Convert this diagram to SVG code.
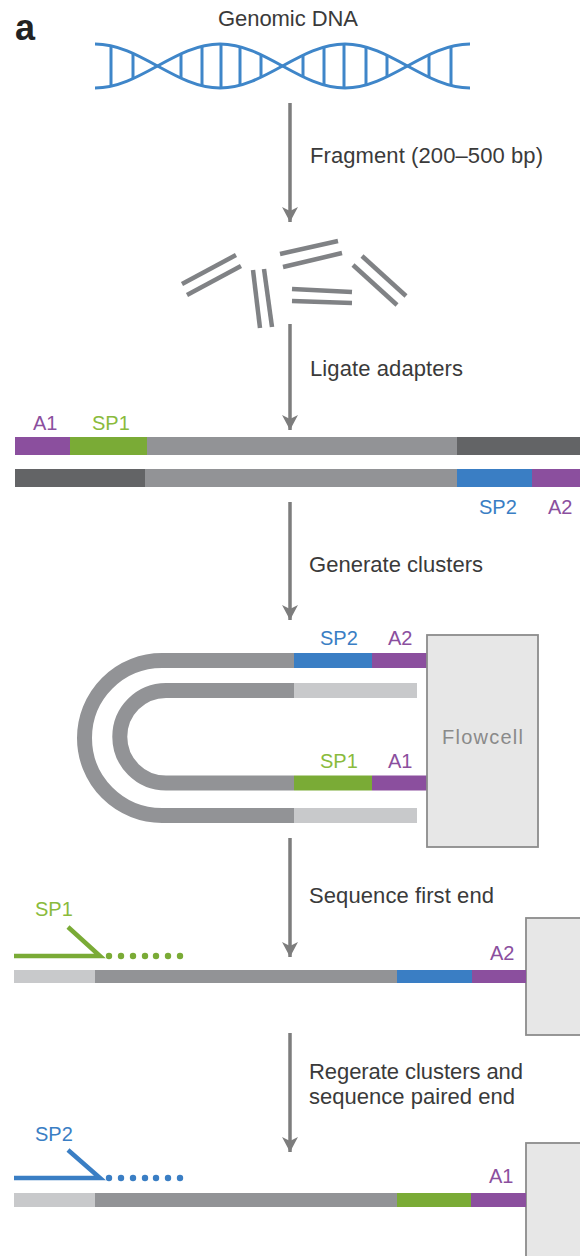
<svg xmlns="http://www.w3.org/2000/svg" width="580" height="1256" viewBox="0 0 580 1256">
  <style>
    .step { font-family: "Liberation Sans", Arial, sans-serif; font-size: 22px; fill: #3a3a3a; }
    .tag { font-family: "Liberation Sans", Arial, sans-serif; font-size: 20px; }
    .purple-t { fill: #8b4f9e; }
    .green-t { fill: #8abb3c; }
    .blue-t { fill: #3a7ec4; }
    .helix { fill: none; stroke: #3f86c9; stroke-width: 3; }
    .rung { stroke: #3f86c9; stroke-width: 3; }
    .frag { stroke: #808285; stroke-width: 4.5; }
    .arrow { stroke: #7d7d7d; stroke-width: 3.5; fill: none; marker-end: url(#tip); }
    .strand { fill: none; stroke-width: 15; stroke-linecap: butt; }
    .box { fill: #e7e7e7; stroke: #8c8c8c; stroke-width: 1.8; }
    .primer-g { fill: none; stroke: #7aab36; stroke-width: 4.5; stroke-linejoin: miter; }
    .primer-b { fill: none; stroke: #3a7ec4; stroke-width: 4.5; stroke-linejoin: miter; }
  </style>
  <defs>
    <marker id="tip" markerUnits="userSpaceOnUse" markerWidth="16" markerHeight="16" viewBox="0 0 16 16" refX="15" refY="8" orient="auto">
      <path d="M0,0 L15,8 L0,16 L4,8 Z" fill="#7d7d7d"/>
    </marker>
  </defs>

  <rect width="580" height="1256" fill="#ffffff"/>

  <text x="15" y="40" font-family="'Liberation Sans', Arial, sans-serif" font-size="36" font-weight="bold" fill="#222">a</text>

  <!-- genomic DNA double helix -->
  <g id="genomic-dna">
    <text class="step" x="218" y="26" font-size="20" textLength="140">Genomic DNA</text>
    <path class="helix" d="M95,44 C140,44 175,88 220,88 C265,88 300,44 345,44 C390,44 425,88 470,88"/>
    <path class="helix" d="M95,88 C140,88 175,44 220,44 C265,44 300,88 345,88 C390,88 425,44 470,44"/>
    <line class="rung" x1="111" y1="46.3" x2="111" y2="85.7"/>
    <line class="rung" x1="133" y1="53.8" x2="133" y2="78.2"/>
    <line class="rung" x1="181" y1="54.2" x2="181" y2="77.8"/>
    <line class="rung" x1="202" y1="46.7" x2="202" y2="85.3"/>
    <line class="rung" x1="221" y1="44.5" x2="221" y2="87.5"/>
    <line class="rung" x1="240" y1="47.2" x2="240" y2="84.8"/>
    <line class="rung" x1="261" y1="55.1" x2="261" y2="76.9"/>
    <line class="rung" x1="303" y1="55.7" x2="303" y2="76.3"/>
    <line class="rung" x1="324" y1="47.5" x2="324" y2="84.5"/>
    <line class="rung" x1="344" y1="44.5" x2="344" y2="87.5"/>
    <line class="rung" x1="366" y1="47.3" x2="366" y2="84.7"/>
    <line class="rung" x1="387" y1="55.9" x2="387" y2="76.1"/>
    <line class="rung" x1="429" y1="55.1" x2="429" y2="76.9"/>
    <line class="rung" x1="451" y1="46.8" x2="451" y2="85.2"/>
  </g>

  <!-- sheared fragments -->
  <g id="fragments">
    <line class="frag" x1="182" y1="284" x2="236" y2="255"/>
    <line class="frag" x1="187" y1="295" x2="241" y2="266"/>
    <line class="frag" x1="253" y1="270" x2="260" y2="328"/>
    <line class="frag" x1="264" y1="269" x2="272" y2="327"/>
    <line class="frag" x1="280" y1="254" x2="338" y2="241"/>
    <line class="frag" x1="283" y1="267" x2="342" y2="253"/>
    <line class="frag" x1="292" y1="289" x2="352" y2="292"/>
    <line class="frag" x1="292" y1="301" x2="352" y2="303"/>
    <line class="frag" x1="362" y1="256" x2="406" y2="296"/>
    <line class="frag" x1="353" y1="265" x2="397" y2="305"/>
  </g>

  <!-- fragment with adapters ligated -->
  <g id="adapters">
    <rect x="15" y="437" width="55" height="18" fill="#8b4f9e"/>
    <rect x="70" y="437" width="77" height="18" fill="#7aab36"/>
    <rect x="147" y="437" width="310" height="18" fill="#929396"/>
    <rect x="457" y="437" width="123" height="18" fill="#636466"/>
    <rect x="15" y="469" width="130" height="18" fill="#636466"/>
    <rect x="145" y="469" width="312" height="18" fill="#929396"/>
    <rect x="457" y="469" width="75" height="18" fill="#3a7ec4"/>
    <rect x="532" y="469" width="48" height="18" fill="#8b4f9e"/>
    <text class="tag purple-t" x="33" y="430">A1</text>
    <text class="tag green-t" x="92" y="430">SP1</text>
    <text class="tag blue-t" x="479" y="514">SP2</text>
    <text class="tag purple-t" x="548" y="514">A2</text>
  </g>

  <!-- bridge-amplified cluster on the flowcell -->
  <g id="cluster">
    <path class="strand" stroke="#929396" d="M294,660.5 H162 A77.5,77.5 0 0 0 162,815.5 H294"/>
    <path class="strand" stroke="#929396" d="M294,690.5 H166 A46.25,46.25 0 0 0 166,783 H294"/>
    <line class="strand" stroke="#3a7ec4" x1="294" y1="660.5" x2="372" y2="660.5"/>
    <line class="strand" stroke="#8b4f9e" x1="372" y1="660.5" x2="427" y2="660.5"/>
    <line class="strand" stroke="#c8c9cb" x1="294" y1="690.5" x2="417" y2="690.5"/>
    <line class="strand" stroke="#7aab36" x1="294" y1="783" x2="372" y2="783"/>
    <line class="strand" stroke="#8b4f9e" x1="372" y1="783" x2="427" y2="783"/>
    <line class="strand" stroke="#c8c9cb" x1="294" y1="815.5" x2="417" y2="815.5"/>
    <text class="tag blue-t" x="320" y="645">SP2</text>
    <text class="tag purple-t" x="388" y="645">A2</text>
    <text class="tag green-t" x="320" y="768">SP1</text>
    <text class="tag purple-t" x="388" y="768">A1</text>
  </g>

  <g id="flowcell">
    <rect class="box" x="427" y="635" width="111" height="212"/>
    <text class="tag" x="442" y="744" fill="#8a8a8a" textLength="81">Flowcell</text>
  </g>

  <!-- read 1 -->
  <g id="read1">
    <rect class="box" x="526" y="918" width="60" height="117"/>
    <rect x="14" y="970" width="81" height="13" fill="#c8c9cb"/>
    <rect x="95" y="970" width="302" height="13" fill="#929396"/>
    <rect x="397" y="970" width="75" height="13" fill="#3a7ec4"/>
    <rect x="472" y="970" width="54" height="13" fill="#8b4f9e"/>
    <path class="primer-g" d="M14,956 H100 L68,927"/>
    <g fill="#7aab36">
      <circle cx="109" cy="956" r="3.2"/>
      <circle cx="121" cy="956" r="3.2"/>
      <circle cx="133" cy="956" r="3.2"/>
      <circle cx="145" cy="956" r="3.2"/>
      <circle cx="156" cy="956" r="3.2"/>
      <circle cx="168" cy="956" r="3.2"/>
      <circle cx="180" cy="956" r="3.2"/>
    </g>
    <text class="tag green-t" x="35" y="916">SP1</text>
    <text class="tag purple-t" x="490" y="960">A2</text>
  </g>

  <!-- read 2 -->
  <g id="read2">
    <rect class="box" x="526" y="1143" width="60" height="125"/>
    <rect x="14" y="1193" width="81" height="14" fill="#c8c9cb"/>
    <rect x="95" y="1193" width="302" height="14" fill="#929396"/>
    <rect x="397" y="1193" width="74" height="14" fill="#7aab36"/>
    <rect x="471" y="1193" width="55" height="14" fill="#8b4f9e"/>
    <path class="primer-b" d="M14,1178 H100 L68,1150"/>
    <g fill="#3a7ec4">
      <circle cx="109" cy="1178" r="3.2"/>
      <circle cx="121" cy="1178" r="3.2"/>
      <circle cx="133" cy="1178" r="3.2"/>
      <circle cx="145" cy="1178" r="3.2"/>
      <circle cx="156" cy="1178" r="3.2"/>
      <circle cx="168" cy="1178" r="3.2"/>
      <circle cx="180" cy="1178" r="3.2"/>
    </g>
    <text class="tag blue-t" x="35" y="1141">SP2</text>
    <text class="tag purple-t" x="489" y="1183">A1</text>
  </g>

  <!-- process arrows and step labels -->
  <g id="connectors">
    <line class="arrow" x1="290" y1="103" x2="290" y2="222"/>
    <line class="arrow" x1="290" y1="324" x2="290" y2="430"/>
    <line class="arrow" x1="290" y1="502" x2="290" y2="620"/>
    <line class="arrow" x1="290" y1="838" x2="290" y2="957"/>
    <line class="arrow" x1="290" y1="1033" x2="290" y2="1152"/>
    <text class="step" x="310" y="163" textLength="233">Fragment (200–500 bp)</text>
    <text class="step" x="310" y="376" textLength="153">Ligate adapters</text>
    <text class="step" x="309" y="572" textLength="174">Generate clusters</text>
    <text class="step" x="309" y="903" textLength="185">Sequence first end</text>
    <text class="step" x="309" y="1079" textLength="214">Regerate clusters and</text>
    <text class="step" x="309" y="1104" textLength="206">sequence paired end</text>
  </g>
</svg>
